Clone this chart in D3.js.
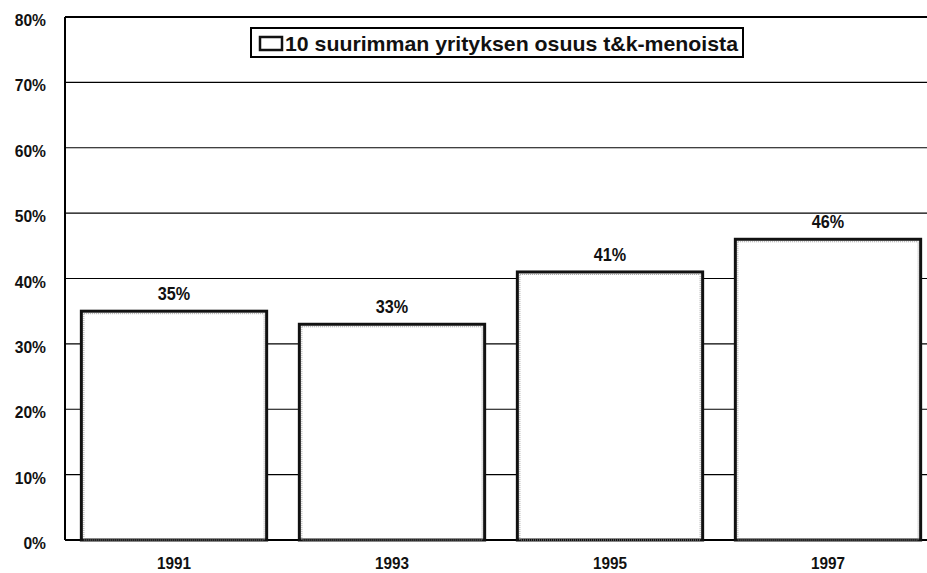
<!DOCTYPE html>
<html>
<head>
<meta charset="utf-8">
<script src="https://cdn.jsdelivr.net/npm/d3@7"></script>
<style>
  body { margin: 0; background: #fff; }
  text { font-family: "Liberation Sans", Arial, sans-serif; font-weight: bold; fill: #111; }
</style>
</head>
<body>
<div id="chart"></div>
<script>
const years = ["1991", "1993", "1995", "1997"];
const shares = [35, 33, 41, 46];
const yTicks = [0, 10, 20, 30, 40, 50, 60, 70, 80];
const legendLabel = "10 suurimman yrityksen osuus t&k-menoista";

const width = 927;
const height = 573;
const margin = { top: 17, right: -10, bottom: 33, left: 65 };

const svg = d3
  .select("#chart")
  .append("svg")
  .attr("width", width)
  .attr("height", height);

const x = d3
  .scaleBand()
  .domain(years)
  .range([margin.left, width - margin.right])
  .paddingInner(0.15)
  .paddingOuter(0.075);

const y = d3
  .scaleLinear()
  .domain([0, 80])
  .range([height - margin.bottom, margin.top]);

// narrow-ish text: the original uses a condensed face
function narrow(sel, sx) {
  sel.attr("transform", function() {
    const t = d3.select(this);
    const tx = +t.attr("x");
    const ty = +t.attr("y");
    t.attr("x", 0).attr("y", 0);
    return `translate(${tx},${ty}) scale(${sx},1)`;
  });
}

// gridlines
svg
  .selectAll(".grid")
  .data(yTicks)
  .enter()
  .append("line")
  .attr("x1", margin.left)
  .attr("x2", width)
  .attr("y1", d => y(d))
  .attr("y2", d => y(d))
  .attr("stroke", "#000")
  .attr("stroke-width", d => (d === 0 || d === 80 ? 2 : 1.2));

// y axis line
svg
  .append("line")
  .attr("x1", margin.left)
  .attr("x2", margin.left)
  .attr("y1", y(80))
  .attr("y2", y(0))
  .attr("stroke", "#000")
  .attr("stroke-width", 2);

// y tick labels
svg
  .selectAll(".ytick")
  .data(yTicks)
  .enter()
  .append("text")
  .attr("x", 46)
  .attr("y", d => y(d) + 9)
  .attr("text-anchor", "end")
  .style("font-size", "17px")
  .call(narrow, 0.92)
  .text(d => d + "%");

// bars
svg
  .selectAll(".bar")
  .data(shares)
  .enter()
  .append("rect")
  .attr("x", (d, i) => x(years[i]))
  .attr("y", d => y(d))
  .attr("width", x.bandwidth())
  .attr("height", d => y(0) - y(d))
  .attr("fill", "#fff")
  .attr("stroke", "#111")
  .attr("stroke-width", 3);

svg
  .selectAll(".bar-inner")
  .data(shares)
  .enter()
  .append("rect")
  .attr("x", (d, i) => x(years[i]) + 2.5)
  .attr("y", d => y(d) + 2.5)
  .attr("width", x.bandwidth() - 5)
  .attr("height", d => y(0) - y(d) - 2.5)
  .attr("fill", "none")
  .attr("stroke", "#999")
  .attr("stroke-width", 1)
  .attr("stroke-dasharray", "1,1");

// value labels
svg
  .selectAll(".val")
  .data(shares)
  .enter()
  .append("text")
  .attr("x", (d, i) => x(years[i]) + x.bandwidth() / 2)
  .attr("y", d => y(d) - 11)
  .attr("text-anchor", "middle")
  .style("font-size", "18px")
  .call(narrow, 0.9)
  .text(d => d + "%");

// x labels
svg
  .selectAll(".xlab")
  .data(years)
  .enter()
  .append("text")
  .attr("x", d => x(d) + x.bandwidth() / 2)
  .attr("y", height - 4)
  .attr("text-anchor", "middle")
  .style("font-size", "17px")
  .call(narrow, 0.9)
  .text(d => d);

// legend
const legend = svg.append("g").attr("transform", "translate(251,28)");
legend
  .append("rect")
  .attr("width", 492)
  .attr("height", 29)
  .attr("fill", "#fff")
  .attr("stroke", "#000")
  .attr("stroke-width", 2);
legend
  .append("rect")
  .attr("x", 9)
  .attr("y", 9)
  .attr("width", 22)
  .attr("height", 13)
  .attr("fill", "#fff")
  .attr("stroke", "#111")
  .attr("stroke-width", 2.5);
legend
  .append("text")
  .attr("x", 34)
  .attr("y", 23)
  .attr("textLength", 453)
  .attr("lengthAdjust", "spacingAndGlyphs")
  .style("font-size", "21px")
  .style("font-weight", "600")
  .text(legendLabel);
</script>
</body>
</html>
